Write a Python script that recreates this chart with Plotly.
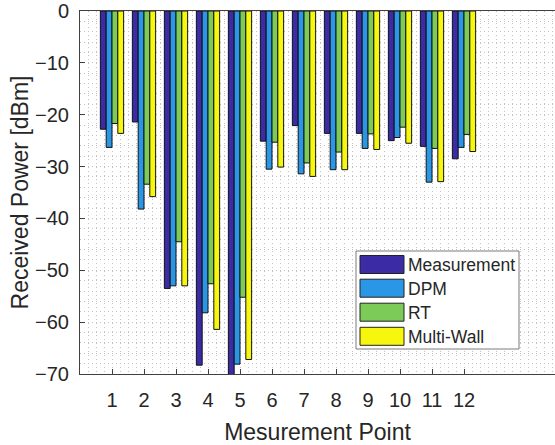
import plotly.graph_objects as go

points = list(range(1, 13))
tick_labels = [str(p) for p in points]
series_names = ["Measurement", "DPM", "RT", "Multi-Wall"]
measurement = [-22.8, -21.4, -53.5, -68.3, -71.0, -25.1, -22.1, -23.6, -23.6, -25.0, -26.1, -28.5]
dpm = [-26.3, -38.2, -53.0, -58.2, -68.1, -30.5, -31.4, -30.6, -26.5, -24.4, -33.0, -26.3]
rt = [-21.7, -33.4, -44.5, -52.6, -55.2, -25.3, -29.3, -27.2, -23.7, -22.4, -26.5, -23.8]
multi_wall = [-23.6, -35.8, -53.0, -61.4, -67.2, -30.1, -31.9, -30.6, -26.7, -25.5, -32.9, -27.1]
colors = ["#3B2CA6", "#2A96E6", "#7CCA57", "#F7F70E"]

W, H = 555, 445
L, T, R, B = 80, 11, 555, 374

fig = go.Figure()
for name, vals, col in zip(series_names, [measurement, dpm, rt, multi_wall], colors):
    fig.add_trace(go.Bar(x=points, y=vals, name=name, marker=dict(color=col, line=dict(color="#111111", width=1)),
                         showlegend=False))

grid_col = "#c2c2c2"
grid_dash = "1px,3px"
axis_col = "#404040"
font_fam = "Liberation Sans, Arial, sans-serif"

fig.update_layout(
    template="none",
    width=W, height=H,
    margin=dict(l=L, r=W - R, t=T, b=H - B, pad=0, autoexpand=False),
    paper_bgcolor="white", plot_bgcolor="white",
    barmode="group", bargap=0.273, bargroupgap=0,
    showlegend=False,
    font=dict(family=font_fam, color="#262626"),
    xaxis=dict(
        range=[0, (R - L) / 32.0], tickvals=points, ticktext=tick_labels,
        ticks="inside", ticklen=5, tickcolor=axis_col, tickwidth=1,
        showline=True, linecolor=axis_col, linewidth=1, mirror=True,
        showgrid=True, gridcolor=grid_col, griddash=grid_dash, gridwidth=1,
        minor=dict(dtick=0.25, tick0=0, showgrid=True, gridcolor=grid_col, griddash=grid_dash, gridwidth=1, ticks=""),
        tickfont=dict(size=20, color="#262626"), ticklabelstandoff=8,
        title=dict(text="Mesurement Point", font=dict(size=23, color="#262626"), standoff=14),
        zeroline=False, fixedrange=True, automargin=False, ticklabeloverflow="allow",
    ),
    yaxis=dict(
        range=[-70, 0], dtick=10, tick0=0,
        ticks="inside", ticklen=5, tickcolor=axis_col, tickwidth=1,
        showline=True, linecolor=axis_col, linewidth=1, mirror=False,
        showgrid=True, gridcolor=grid_col, griddash=grid_dash, gridwidth=1,
        minor=dict(dtick=2, tick0=0, showgrid=True, gridcolor=grid_col, griddash=grid_dash, gridwidth=1, ticks=""),
        tickfont=dict(size=20, color="#262626"), ticklabelstandoff=6,
        title=dict(text="Received Power [dBm]", font=dict(size=23, color="#262626"), standoff=0),
        zeroline=False, fixedrange=True, automargin=False, ticklabeloverflow="allow",
    ),
)

def px(x):
    return (x - L) / (R - L)

def py(y):
    return (B - y) / (B - T)

# legend box (pixel coordinates)
fig.add_shape(type="rect", xref="paper", yref="paper", x0=px(356), x1=px(519), y0=py(349), y1=py(251),
              line=dict(color="#7a7a7a", width=1), fillcolor="white", layer="above")
row_top = [255.5, 279.2, 303.2, 327.3]
for name, col, yt in zip(series_names, colors, row_top):
    fig.add_shape(type="rect", xref="paper", yref="paper", x0=px(360), x1=px(404), y0=py(yt + 18), y1=py(yt),
                  line=dict(color="#222222", width=1), fillcolor=col, layer="above")
    fig.add_annotation(xref="paper", yref="paper", x=px(406), y=py(yt + 9.5), text=name, showarrow=False,
                       xanchor="left", yanchor="middle", font=dict(size=17.5, color="#262626", family=font_fam))

fig.write_html("out.html", config={"displayModeBar": False},
               post_script="document.body.style.margin='0';document.body.style.overflow='hidden';")
